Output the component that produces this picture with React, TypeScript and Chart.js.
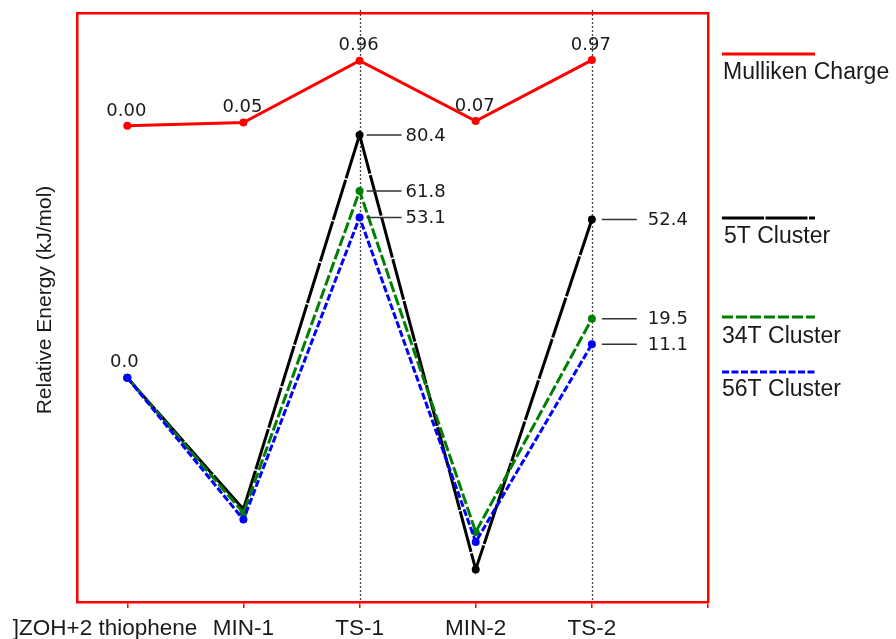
import React, { useEffect, useRef } from 'react';
import { Chart, registerables } from 'chart.js';

Chart.register(...registerables);

// ---- data ----
const categories = [']ZOH+2 thiophene', 'MIN-1', 'TS-1', 'MIN-2', 'TS-2'];
const xTickValues = [0, 1, 2, 3, 4, 5];
const mullikenCharge = [0.0, 0.05, 0.96, 0.07, 0.97];
const mullikenLabels = ['0.00', '0.05', '0.96', '0.07', '0.97'];
const energy5T = [0.0, -43.6, 80.4, -63.5, 52.4];
const energy34T = [0.0, -44.8, 61.8, -51.1, 19.5];
const energy56T = [0.0, -47.0, 53.1, -54.4, 11.1];
const energyLabels5T = ['0.0', '', '80.4', '', '52.4'];
const energyLabels34T = ['', '', '61.8', '', '19.5'];
const energyLabels56T = ['', '', '53.1', '', '11.1'];
const tsIndices = [2, 4];
const legendNames = ['Mulliken Charge', '5T Cluster', '34T Cluster', '56T Cluster'];

const RED = '#ff0000';
const BLACK = '#000000';
const GREEN = '#008000';
const BLUE = '#0000ff';
const TEXT = '#1a1a1a';
const DASH_5T = [42, 1.5];
const DASH_34T = [11, 3];
const DASH_56T = [7, 2.5];

const toPoints = (arr: number[]) => arr.map((v, i) => ({ x: i, y: v }));

const overlayPlugin = {
  id: 'overlay',
  beforeDraw(chart: any) {
    const { ctx, chartArea, scales } = chart;
    const xs = scales.x;
    ctx.save();
    ctx.strokeStyle = '#444';
    ctx.lineWidth = 1.3;
    ctx.setLineDash([2, 2]);
    tsIndices.forEach((i) => {
      const px = Math.round(xs.getPixelForValue(i)) + 0.5;
      ctx.beginPath();
      ctx.moveTo(px, chartArea.top - 3);
      ctx.lineTo(px, chartArea.bottom);
      ctx.stroke();
    });
    ctx.restore();
  },
  afterDraw(chart: any) {
    const { ctx, chartArea, scales } = chart;
    const xs = scales.x;
    const ys = scales.y;
    const yc = scales.yCharge;
    ctx.save();

    // Mulliken charge labels
    ctx.font = '18px "DejaVu Sans"';
    ctx.fillStyle = TEXT;
    ctx.textAlign = 'center';
    ctx.textBaseline = 'middle';
    mullikenCharge.forEach((v, i) => {
      const px = xs.getPixelForValue(i);
      const py = yc.getPixelForValue(v);
      ctx.fillText(mullikenLabels[i], px - 1, py - 15);
    });

    // energy labels
    const sets = [
      { vals: energy5T, labels: energyLabels5T },
      { vals: energy34T, labels: energyLabels34T },
      { vals: energy56T, labels: energyLabels56T },
    ];
    sets.forEach((s) => {
      s.vals.forEach((v, i) => {
        const lab = s.labels[i];
        if (!lab) return;
        const px = xs.getPixelForValue(i);
        const py = ys.getPixelForValue(v);
        if (i === 0) {
          ctx.textAlign = 'center';
          ctx.fillText(lab, px - 3, py - 15);
          return;
        }
        const off = i === 2 ? [7, 42, 46] : [10, 45, 56];
        ctx.save();
        ctx.strokeStyle = '#333';
        ctx.lineWidth = 1.5;
        ctx.beginPath();
        ctx.moveTo(px + off[0], py);
        ctx.lineTo(px + off[1], py);
        ctx.stroke();
        ctx.restore();
        ctx.textAlign = 'left';
        ctx.fillText(lab, px + off[2], py + 1);
      });
    });

    // x category labels
    ctx.font = '22.5px "Liberation Sans"';
    ctx.textBaseline = 'alphabetic';
    categories.forEach((c, i) => {
      const px = xs.getPixelForValue(i);
      if (i === 0) {
        ctx.textAlign = 'right';
        ctx.fillText(c, px + 70, 634.5);
      } else {
        ctx.textAlign = 'center';
        ctx.fillText(c, px, 634.5);
      }
    });

    // y axis title
    ctx.save();
    ctx.font = '21px "Liberation Sans"';
    ctx.translate(45, 300);
    ctx.rotate(-Math.PI / 2);
    ctx.textAlign = 'center';
    ctx.textBaseline = 'middle';
    ctx.fillText('Relative Energy (kJ/mol)', 0, 0);
    ctx.restore();

    // legend
    const legendItems = [
      { name: legendNames[0], color: RED, dash: [], lineY: 54, textY: 73, tx: 723 },
      { name: legendNames[1], color: BLACK, dash: DASH_5T, lineY: 218, textY: 237, tx: 724 },
      { name: legendNames[2], color: GREEN, dash: DASH_34T, lineY: 317, textY: 337, tx: 722 },
      { name: legendNames[3], color: BLUE, dash: DASH_56T, lineY: 372, textY: 390, tx: 722 },
    ];
    const lx0 = chartArea.right + 14;
    legendItems.forEach((it) => {
      ctx.save();
      ctx.strokeStyle = it.color;
      ctx.lineWidth = 3;
      ctx.setLineDash(it.dash);
      ctx.beginPath();
      ctx.moveTo(lx0, it.lineY);
      ctx.lineTo(lx0 + 93, it.lineY);
      ctx.stroke();
      ctx.restore();
      ctx.font = '23px "Liberation Sans"';
      ctx.fillStyle = TEXT;
      ctx.textAlign = 'left';
      ctx.textBaseline = 'middle';
      ctx.fillText(it.name, it.tx, it.textY);
    });

    ctx.restore();
  },
};

export default function App() {
  const ref = useRef<HTMLCanvasElement | null>(null);
  useEffect(() => {
    document.body.style.margin = '0';
    const canvas = ref.current;
    if (!canvas) return;
    const border = { display: true, color: RED, width: 2.5 };
    const noGrid = { display: false, drawTicks: false };
    const chart = new Chart(canvas, {
      type: 'line',
      data: {
        datasets: [
          {
            label: legendNames[0],
            data: toPoints(mullikenCharge),
            yAxisID: 'yCharge',
            borderColor: RED,
            backgroundColor: RED,
            borderWidth: 3,
            pointRadius: 4,
            pointBorderWidth: 0,
            pointBackgroundColor: RED,
            order: 4,
          },
          {
            label: legendNames[1],
            data: toPoints(energy5T),
            yAxisID: 'y',
            borderColor: BLACK,
            backgroundColor: BLACK,
            borderWidth: 3,
            borderDash: DASH_5T,
            pointRadius: 4,
            pointBorderWidth: 0,
            pointBackgroundColor: BLACK,
            order: 3,
          },
          {
            label: legendNames[2],
            data: toPoints(energy34T),
            yAxisID: 'y',
            borderColor: GREEN,
            backgroundColor: GREEN,
            borderWidth: 3,
            borderDash: DASH_34T,
            pointRadius: 4,
            pointBorderWidth: 0,
            pointBackgroundColor: GREEN,
            order: 2,
          },
          {
            label: legendNames[3],
            data: toPoints(energy56T),
            yAxisID: 'y',
            borderColor: BLUE,
            backgroundColor: BLUE,
            borderWidth: 3,
            borderDash: DASH_56T,
            pointRadius: 4,
            pointBorderWidth: 0,
            pointBackgroundColor: BLUE,
            order: 1,
          },
        ],
      },
      options: {
        responsive: false,
        animation: false,
        layout: { padding: { left: 77, right: 188, top: 13, bottom: 31 } },
        plugins: { legend: { display: false }, tooltip: { enabled: false } },
        scales: {
          x: {
            type: 'linear',
            position: 'bottom',
            min: -0.433,
            max: 5,
            afterBuildTicks: (s: any) => {
              s.ticks = xTickValues.map((v) => ({ value: v }));
            },
            ticks: { display: false },
            grid: {
              display: true,
              drawOnChartArea: false,
              drawTicks: true,
              tickLength: 6,
              color: RED,
              lineWidth: 1.5,
            },
            border,
          },
          xTop: {
            type: 'linear',
            position: 'top',
            min: -0.433,
            max: 5,
            ticks: { display: false },
            grid: noGrid,
            border,
          },
          y: {
            type: 'linear',
            position: 'left',
            min: -74.3,
            max: 120.8,
            ticks: { display: false },
            grid: noGrid,
            border,
          },
          yCharge: {
            type: 'linear',
            position: 'right',
            min: -7.024,
            max: 1.665,
            ticks: { display: false },
            grid: noGrid,
            border,
          },
        },
      } as any,
      plugins: [overlayPlugin],
    });
    return () => chart.destroy();
  }, []);
  return (
    <div style={{ width: 896, height: 639, background: '#fff' }}>
      <canvas ref={ref} width={896} height={639} style={{ display: 'block' }} />
    </div>
  );
}
